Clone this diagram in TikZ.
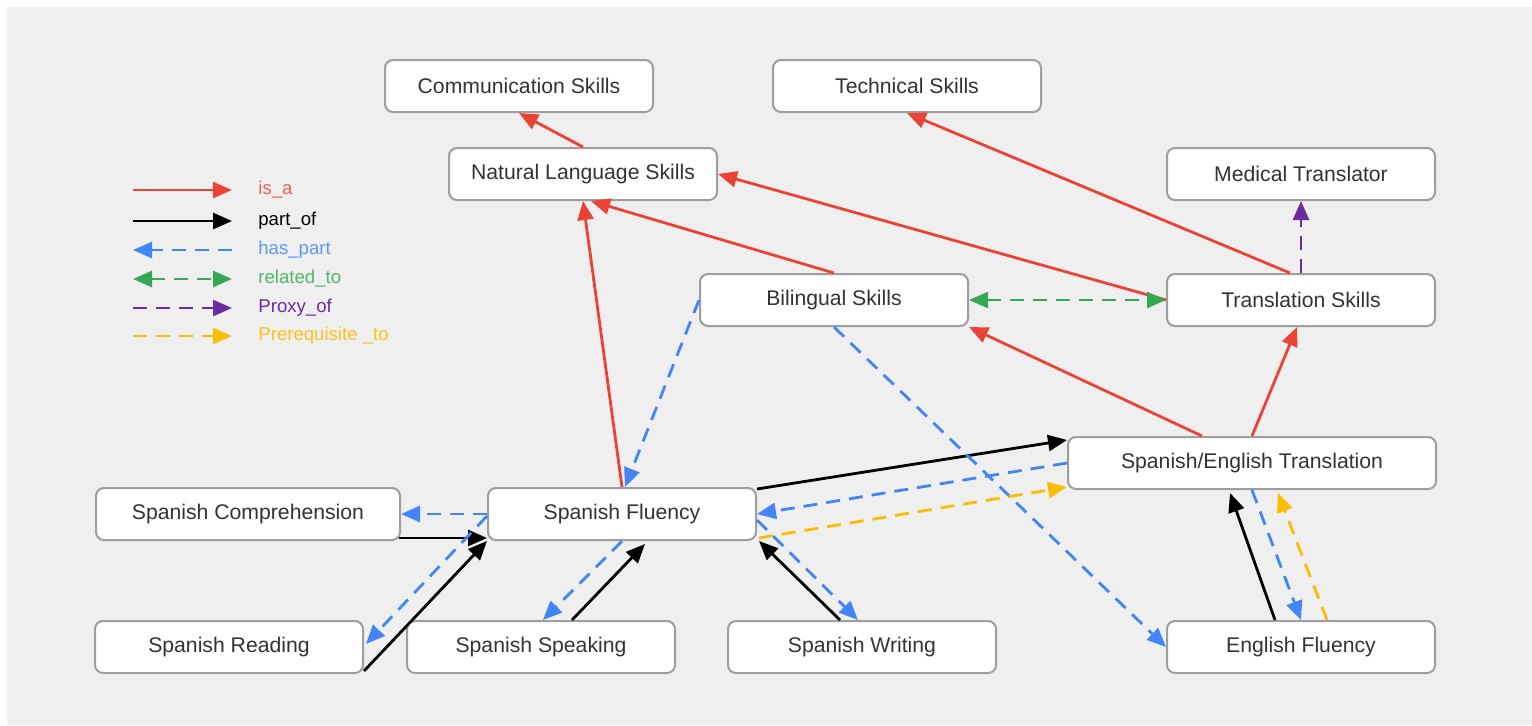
\documentclass[tikz,border=0pt]{standalone}
\usepackage{fontspec}
\setmainfont{Liberation Sans}
\usetikzlibrary{arrows.meta,calc}
\definecolor{bg}{HTML}{EFEFEF}
\definecolor{boxline}{HTML}{9E9E9E}
\definecolor{txt}{HTML}{333333}
\definecolor{isared}{HTML}{EA4335}
\definecolor{hpblue}{HTML}{4285F4}
\definecolor{rtgreen}{HTML}{34A853}
\definecolor{pxpurple}{HTML}{6A2C9E}
\definecolor{pryellow}{HTML}{FBBC05}
\begin{document}
\begin{tikzpicture}[x=0.5pt,y=-0.5pt,
  box/.style={draw=boxline, line width=1pt, fill=white, rounded corners=4pt,
    minimum height=26pt, minimum width=134pt, inner sep=0pt, text=txt,
    font=\fontsize{10.6}{12}\selectfont},
  tip/.style={-{Triangle[length=9.5pt,width=8pt]}},
  isa/.style={draw=isared, line width=1.4pt, tip},
  partof/.style={draw=black, line width=1.4pt, tip},
  dsh/.style={line width=1.4pt, dash pattern=on 7pt off 4.5pt},
  haspart/.style={draw=hpblue, dsh, tip},
  relto/.style={draw=rtgreen, dsh, {Triangle[length=9.5pt,width=8pt]}-{Triangle[length=9.5pt,width=8pt]}},
  proxy/.style={draw=pxpurple, dsh, tip},
  prereq/.style={draw=pryellow, dsh, tip},
  leg/.style={anchor=west, inner sep=0pt, font=\fontsize{9.3}{11}\selectfont}
]
\useasboundingbox (0,0) rectangle (1532,725);
\fill[bg] (7,7) rectangle (1532,725);

% nodes
\node[box] (cs) at (519,86) {Communication Skills};
\node[box] (ts) at (907,86) {Technical Skills};
\node[box] (nls) at (583,174) {Natural Language Skills};
\node[box] (mt) at (1301,174) {Medical Translator};
\node[box] (bs) at (834,300) {Bilingual Skills};
\node[box] (trs) at (1301,300) {Translation Skills};
\node[box, minimum width=184pt] (set) at (1252,463) {Spanish/English Translation};
\node[box, minimum width=152pt] (sc) at (248,514) {Spanish Comprehension};
\node[box] (sf) at (622,514) {Spanish Fluency};
\node[box] (sr) at (229,647) {Spanish Reading};
\node[box] (ss) at (541,647) {Spanish Speaking};
\node[box] (sw) at (862,647) {Spanish Writing};
\node[box] (ef) at (1301,647) {English Fluency};

% is_a
\draw[isa] (nls.north) -- (cs.south);
\draw[isa] ($(trs.north)+(-11,0)$) -- (ts.south);
\draw[isa] (trs.west) -- (nls.east);
\draw[isa] (bs.north) -- ($(nls.south)+(8,0)$);
\draw[isa] (sf.north) -- (nls.south);
\draw[isa] ($(set.north)+(-50,0)$) -- (bs.south east);
\draw[isa] (set.north) -- ($(trs.south)+(-4,0)$);

% part_of
\draw[partof] ($(sf.north east)+(0,2)$) -- ($(set.north west)+(0,4)$);
\draw[partof] ($(sc.south east)+(-2,-3)$) -- ($(sf.south west)+(0,-3)$);
\draw[partof] ($(sr.south east)+(0,-3)$) -- (sf.south west);
\draw[partof] ($(ss.north)+(31,0)$) -- ($(sf.south)+(23,3)$);
\draw[partof] ($(sw.north)+(-22,0)$) -- ($(sf.south east)+(2,0)$);
\draw[partof] ($(ef.north)+(-26,0)$) -- ($(set.south)+(-22,3)$);

% has_part
\draw[haspart] (sf.west) -- (sc.east);
\draw[haspart] ($(sf.west)+(0,2)$) -- ($(sr.east)+(2,-3)$);
\draw[haspart] (sf.south) -- ($(ss.north)+(2,0)$);
\draw[haspart] ($(sf.east)+(0,6)$) -- ($(sw.north)+(-4,0)$);
\draw[haspart] (set.west) -- (sf.east);
\draw[haspart] (bs.west) -- ($(sf.north)+(3,0)$);
\draw[haspart] (bs.south) -- (ef.west);
\draw[haspart] (set.south) -- (ef.north);

% related_to, proxy_of, prerequisite_to
\draw[relto] (bs.east) -- (trs.west);
\draw[proxy] (trs.north) -- (mt.south);
\draw[prereq] ($(sf.south east)+(2,-3)$) -- ($(set.south west)+(0,-3)$);
\draw[prereq] ($(ef.north)+(26,0)$) -- ($(set.south)+(26,3)$);

% legend
\foreach \n/\y in {1/190,2/221,3/250,4/279,5/308,6/336}{
  \coordinate (la\n) at (133,\y);
  \coordinate (lb\n) at (232,\y);
}
\draw[isa] (la1) -- (lb1);
\draw[partof] (la2) -- (lb2);
\draw[haspart] (lb3) -- (la3);
\draw[relto] (la4) -- (lb4);
\draw[proxy] (la5) -- (lb5);
\draw[prereq] (la6) -- (lb6);
\node[leg, text=isared!85!white] (t1) at (258,190) {is\_a};
\node[leg, text=black] (t2) at (258,221) {part\_of};
\node[leg, text=hpblue!85!white] (t3) at (258,250) {has\_part};
\node[leg, text=rtgreen!85!white] (t4) at (258,279) {related\_to};
\node[leg, text=pxpurple] (t5) at (258,308) {Proxy\_of};
\node[leg, text=pryellow!90!white] (t6) at (258,336) {Prerequisite \_to};
\end{tikzpicture}
\end{document}
